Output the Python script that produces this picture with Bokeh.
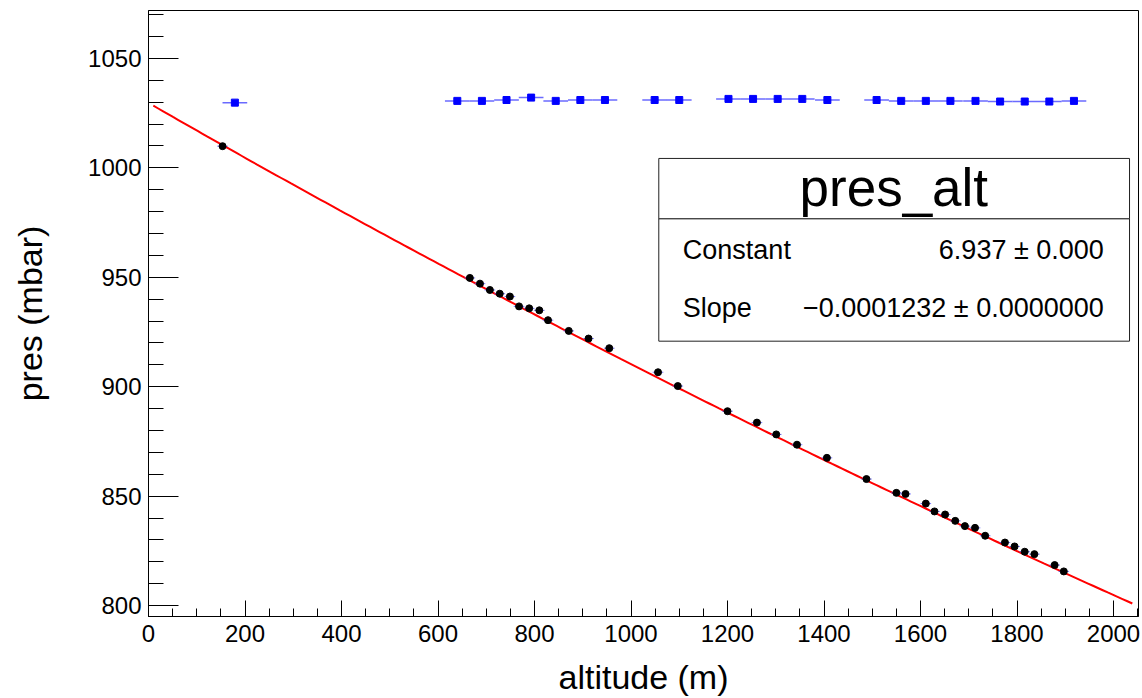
import numpy as np
from bokeh.plotting import figure
from bokeh.models import Range1d, FixedTicker, BoxAnnotation, Label, ColumnDataSource
from bokeh.embed import file_html
from bokeh.resources import INLINE

# ---- data ----
alt_m = [153.5, 666, 687, 707.5, 728, 749, 768, 789, 810, 828, 871, 912, 955,
         1056, 1097, 1200, 1261, 1301, 1344, 1406, 1488, 1550, 1569, 1611, 1629,
         1651, 1672, 1692, 1713, 1734, 1775, 1795, 1816, 1836, 1878, 1897]
pres_mbar = [1009.9, 949.7, 947.1, 944.2, 942.5, 941.2, 936.7, 935.8, 934.9, 930.4,
             925.5, 922.0, 917.6, 906.6, 900.3, 888.8, 883.6, 878.2, 873.5, 867.5,
             857.8, 851.5, 851.0, 846.6, 843.0, 841.6, 838.7, 836.3, 835.5, 831.9,
             828.8, 827.0, 824.6, 823.5, 818.5, 815.6]
alt_err = 11.0

bin_centers = [179, 640, 691, 742, 793, 844, 895, 946, 1049, 1100, 1202, 1253,
               1304, 1355, 1407, 1509, 1560, 1611, 1662, 1714, 1765, 1816, 1867, 1918]
bin_values = [1029.8, 1030.6, 1030.6, 1031.0, 1032.1, 1030.6, 1031.0, 1031.0,
              1031.0, 1031.0, 1031.5, 1031.5, 1031.5, 1031.5, 1031.0, 1031.0,
              1030.6, 1030.6, 1030.6, 1030.6, 1030.3, 1030.3, 1030.3, 1030.6]
bin_half_width = 25.6

fit_constant = 6.937
fit_slope = -0.0001232
fit_range = [10, 2039]

x_ticks = [0, 200, 400, 600, 800, 1000, 1200, 1400, 1600, 1800, 2000]
y_ticks = [800, 850, 900, 950, 1000, 1050]

FONT = "Liberation Sans"

p = figure(width=1142, height=698, output_backend="svg", toolbar_location=None,
           x_range=Range1d(0, 2051.8), y_range=Range1d(795.0, 1071.9),
           min_border_left=148, min_border_right=4, min_border_top=10, min_border_bottom=80)
p.grid.visible = False
p.outline_line_color = "black"
p.outline_line_width = 1
p.background_fill_color = "white"
p.border_fill_color = "white"

# axes
xa = p.xaxis[0]
xa.ticker = FixedTicker(ticks=x_ticks, minor_ticks=list(range(0, 2051, 50)))
xa.axis_label = "altitude (m)"
ya = p.yaxis[0]
ya.ticker = FixedTicker(ticks=y_ticks, minor_ticks=list(range(800, 1071, 10)))
ya.axis_label = "pres (mbar)"
for ax in (xa, ya):
    ax.axis_line_color = "black"
    ax.major_tick_line_color = "black"
    ax.minor_tick_line_color = "black"
    ax.major_tick_out = 0
    ax.minor_tick_out = 0
    ax.major_label_text_font = FONT
    ax.major_label_text_font_size = "24px"
    ax.major_label_text_color = "black"
    ax.axis_label_text_font = FONT
    ax.axis_label_text_font_size = "34px"
    ax.axis_label_text_font_style = "normal"
    ax.axis_label_text_color = "black"
xa.major_tick_in = 16
xa.minor_tick_in = 8
xa.major_label_standoff = 8
xa.axis_label_standoff = 13
ya.major_tick_in = 30
ya.minor_tick_in = 15
ya.major_label_standoff = 7
ya.axis_label_standoff = 36

# blue profile points with bin-width bars
bsrc = ColumnDataSource(dict(x=bin_centers, y=bin_values,
                             lo=[c - bin_half_width for c in bin_centers],
                             hi=[c + bin_half_width for c in bin_centers]))
p.segment(x0="lo", y0="y", x1="hi", y1="y", source=bsrc, line_color="#6a6aff", line_width=1.5)
p.scatter(x="x", y="y", source=bsrc, marker="square", size=7, fill_color="#0000ff", line_color="#0000ff")

# fit line
fx = np.linspace(fit_range[0], fit_range[1], 200)
fy = np.exp(fit_constant + fit_slope * fx)
p.line(fx, fy, line_color="#ff0000", line_width=2)

# black points with horizontal error bars
gsrc = ColumnDataSource(dict(x=alt_m, y=pres_mbar,
                             lo=[a - alt_err for a in alt_m], hi=[a + alt_err for a in alt_m]))
p.segment(x0="lo", y0="y", x1="hi", y1="y", source=gsrc, line_color="#5a5aff", line_width=1, line_alpha=0.8)
p.scatter(x="x", y="y", source=gsrc, marker="circle", size=7, fill_color="black", line_color="black")

# stats box
box_left, box_right = 1057.6, 2033.2
box_top, box_div, box_bottom = 1004.3, 976.7, 920.8
for top, bottom in ((box_top, box_div), (box_div, box_bottom)):
    p.add_layout(BoxAnnotation(left=box_left, right=box_right, top=top, bottom=bottom,
                               fill_color="white", fill_alpha=1, line_color="#222222",
                               line_alpha=1, line_width=1))

p.add_layout(Label(x=1544.7, y=990.9, text="pres_alt", text_font=FONT, text_font_size="53px",
                   text_align="center", text_baseline="alphabetic", text_color="black"))
p.add_layout(Label(x=1107.4, y=962.6, text="Constant", text_font=FONT, text_font_size="27px",
                   text_align="left", text_baseline="alphabetic", text_color="black"))
p.add_layout(Label(x=1979.9, y=962.6, text="6.937 \u00b1 0.000", text_font=FONT, text_font_size="27px",
                   text_align="right", text_baseline="alphabetic", text_color="black"))
p.add_layout(Label(x=1107.4, y=936.1, text="Slope", text_font=FONT, text_font_size="27px",
                   text_align="left", text_baseline="alphabetic", text_color="black"))
p.add_layout(Label(x=1979.9, y=936.1, text="\u22120.0001232 \u00b1 0.0000000", text_font=FONT,
                   text_font_size="27px", text_align="right", text_baseline="alphabetic",
                   text_color="black"))

open("out.html", "w").write(file_html(p, INLINE))
